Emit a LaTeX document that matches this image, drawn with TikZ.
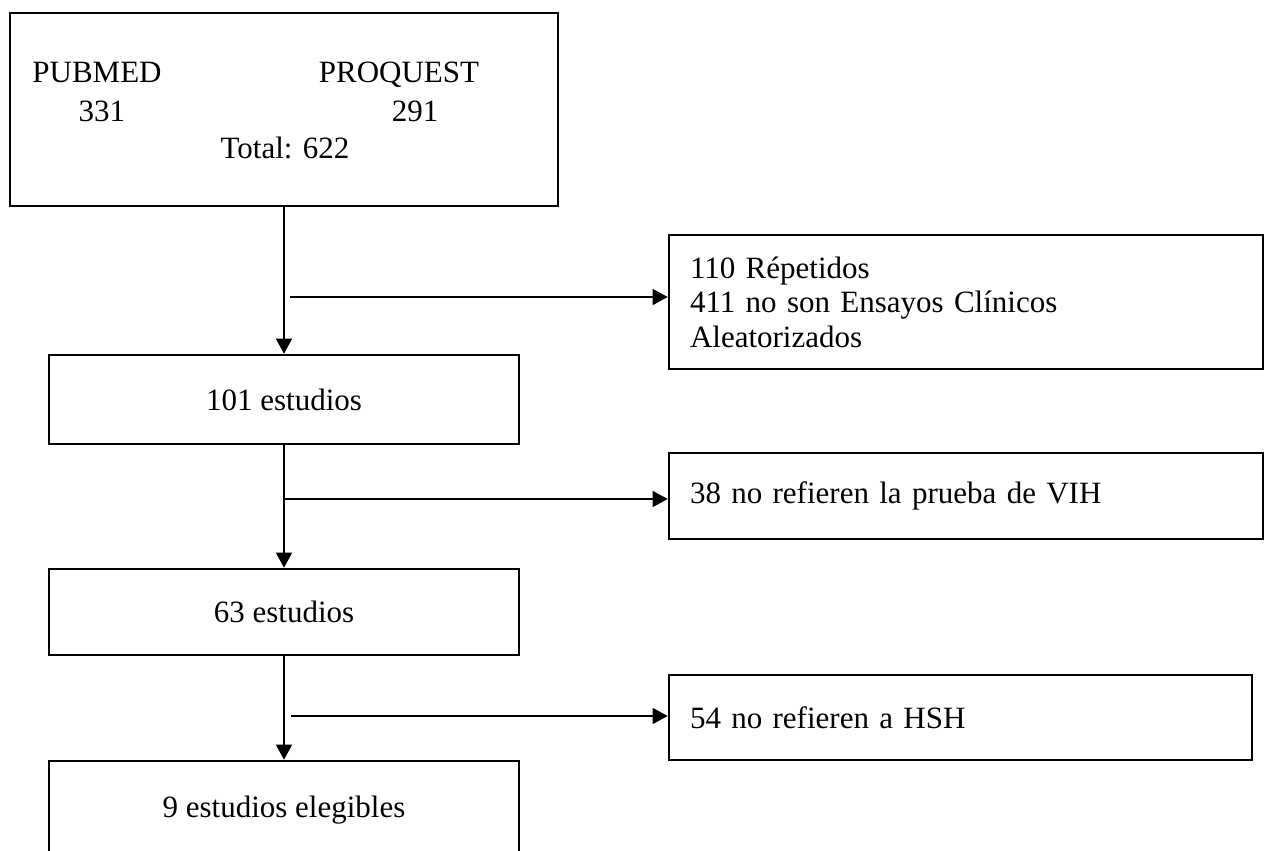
\documentclass[tikz,border=0pt]{standalone}
\usepackage{fontspec}
\setmainfont{Liberation Serif}
\usetikzlibrary{arrows.meta}

\begin{document}
\begin{tikzpicture}[x=0.5pt, y=-0.5pt, font=\fontsize{15.5}{17.25}\selectfont, >={Triangle[length=7.5pt,width=8pt]},
  box/.style={draw, line width=1.3pt, inner sep=0pt, align=center},
  excl/.style={draw, line width=1.3pt, inner ysep=0pt, inner xsep=10.5pt, align=left},
  txt/.style={inner sep=0pt, anchor=base},
  link/.style={->, line width=0.65pt}]
\path[use as bounding box, clip] (0,0) rectangle (1266,851);
% cuadro de busqueda
\node[box, minimum width=274pt, minimum height=96.5pt] (src) at (284,109.5) {};
\node[txt] (pm) at (97,83) {PUBMED};
\node[txt] (pmn) at (102,121) {331};
\node[txt] (pq) at (399,83) {PROQUEST};
\node[txt] (pqn) at (415,121) {291};
\node[txt] (tot) at (285,158) {Total: 622};
% etapas
\node[box, minimum width=235pt, minimum height=44.5pt] (s101) at (284,399.5) {101 estudios};
\node[box, minimum width=235pt, minimum height=43pt] (s63) at (284,612) {63 estudios};
\node[box, minimum width=235pt, minimum height=49pt] (s9) at (284,810) {9 estudios elegibles};
% excluidos
\node[excl, minimum height=67pt, text width=276pt] (ex1) at (966,302) {110 Répetidos\\411 no son Ensayos Clínicos\\Aleatorizados};
\node[excl, minimum height=43pt, text width=276pt] (ex2) at (966,496) {38 no refieren la prueba de VIH};
\node[excl, minimum height=42.5pt, text width=270.5pt] (ex3) at (960.5,717.5) {54 no refieren a HSH};
\coordinate (c1) at (290,297);
\coordinate (c2) at (284,499);
\coordinate (c3) at (291,716);
\draw[link] (src) -- (s101); \draw[link] (s101) -- (s63); \draw[link] (s63) -- (s9);
\draw[link] (c1) -- (c1 -| ex1.west); \draw[link] (c2) -- (c2 -| ex2.west); \draw[link] (c3) -- (c3 -| ex3.west);
\end{tikzpicture}
\end{document}
